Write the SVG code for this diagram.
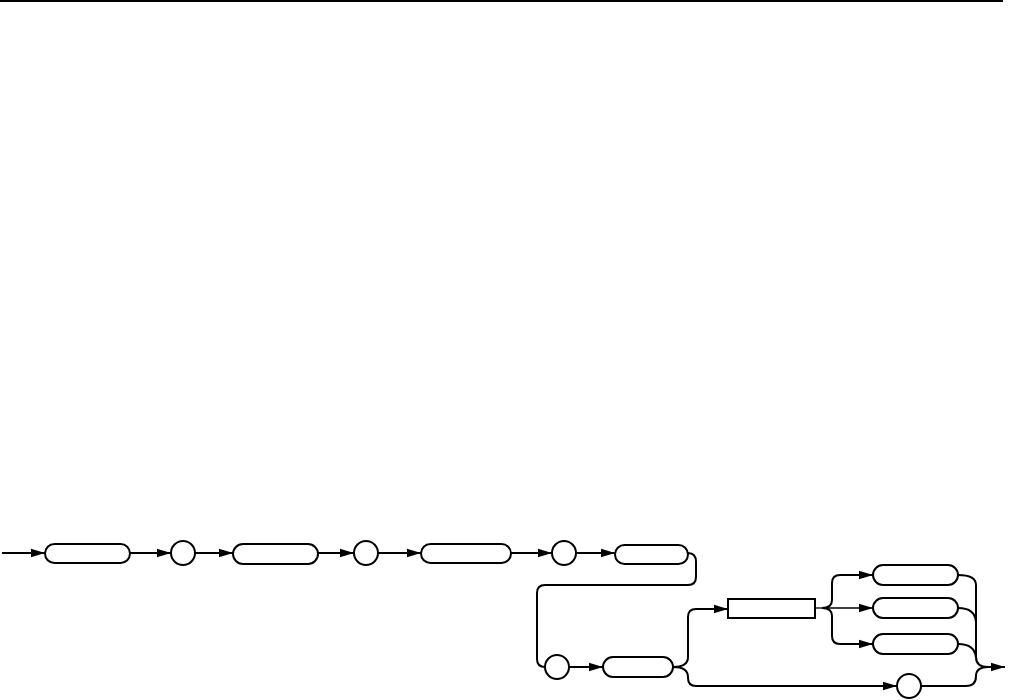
<svg xmlns="http://www.w3.org/2000/svg" width="1009" height="700" viewBox="0 0 1009 700">
<style>
.n{fill:#fff;stroke:#000;stroke-width:2}
.c{fill:none;stroke:#000;stroke-width:2}
.t{fill:none;stroke:#000;stroke-width:1.3}
</style>
<defs>
<marker id="ah" markerUnits="userSpaceOnUse" markerWidth="15" markerHeight="10" refX="14" refY="5" orient="auto">
<path d="M0,0.8 L14,5 L0,9.2 Z" fill="#000"/>
</marker>
</defs>
<rect width="1009" height="700" fill="#fff"/>
<line x1="0" y1="1" x2="1003" y2="1" stroke="#000" stroke-width="2"/>
<g id="connectors">
<path class="c" d="M2,553 H45" marker-end="url(#ah)"/>
<path class="c" d="M130,553 H171" marker-end="url(#ah)"/>
<path class="c" d="M195,553 H233" marker-end="url(#ah)"/>
<path class="c" d="M318,553 H354" marker-end="url(#ah)"/>
<path class="c" d="M378,553 H421" marker-end="url(#ah)"/>
<path class="c" d="M511,553 H552" marker-end="url(#ah)"/>
<path class="c" d="M576,553 H615" marker-end="url(#ah)"/>
<path class="c" d="M688,553 Q696,553 696,562 V577 Q696,585 688,585 H545 Q537,585 537,593 V659 Q537,667 545,667"/>
<path class="c" d="M569,667 H603" marker-end="url(#ah)"/>
<path class="c" d="M673,667 Q688,667 688,657 V617 Q688,609 696,609 H728" marker-end="url(#ah)"/>
<path class="c" d="M673,667 Q688,667 688,677 V678 Q688,686 696,686 H897" marker-end="url(#ah)"/>
<path class="t" d="M815,608 H822"/>
<path class="c" d="M822,608 Q832,608 832,600 V583 Q832,575 840,575 H873" marker-end="url(#ah)"/>
<path class="t" d="M822,608 H873" marker-end="url(#ah)"/>
<path class="c" d="M822,608 Q832,608 832,616 V636 Q832,644 840,644 H873" marker-end="url(#ah)"/>
<path class="c" d="M958,575 Q976,575 976,585 V657 Q976,667 988,667 H1005" marker-end="url(#ah)"/>
<path class="c" d="M958,608 Q975,608 976,622"/>
<path class="c" d="M958,644 Q975,644 976,658"/>
<path class="c" d="M921,686 H966 Q976,686 976,676 Q976,667 988,667"/>
</g>
<g id="n1"><rect class="n" x="45" y="544" width="85" height="19" rx="9.5"/></g>
<g id="n2"><circle class="n" cx="183" cy="553" r="12"/></g>
<g id="n3"><rect class="n" x="233" y="544" width="85" height="20" rx="10"/></g>
<g id="n4"><circle class="n" cx="366" cy="553" r="12"/></g>
<g id="n5"><rect class="n" x="421" y="544" width="90" height="19" rx="9.5"/></g>
<g id="n6"><circle class="n" cx="564" cy="553" r="12"/></g>
<g id="n7"><rect class="n" x="615" y="545" width="73" height="19" rx="9.5"/></g>
<g id="n8"><circle class="n" cx="557" cy="667" r="12"/></g>
<g id="n9"><rect class="n" x="603" y="657" width="70" height="20" rx="10"/></g>
<g id="n10"><rect class="n" x="728" y="599" width="87" height="19"/></g>
<g id="n11"><rect class="n" x="873" y="565" width="85" height="20" rx="10"/></g>
<g id="n12"><rect class="n" x="873" y="598" width="85" height="20" rx="10"/></g>
<g id="n13"><rect class="n" x="873" y="634" width="85" height="20" rx="10"/></g>
<g id="n14"><circle class="n" cx="909" cy="686" r="12"/></g>
</svg>
